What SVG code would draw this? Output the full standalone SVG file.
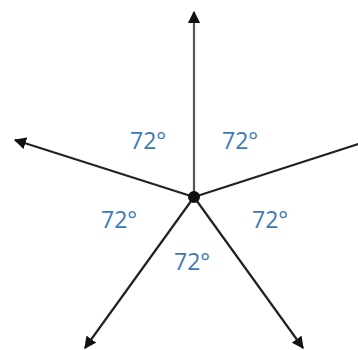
<svg xmlns="http://www.w3.org/2000/svg" width="358" height="350" viewBox="0 0 358 350">
<style>
.ray{stroke:#222;stroke-width:2.2;fill:none;marker-end:url(#ah)}
.lbl{font-family:"Open Sans","Noto Sans","Liberation Sans",sans-serif;font-size:23px;fill:#3d78b3}
</style>
<defs>
<marker id="ah" viewBox="0 0 10 10" refX="9" refY="5" markerWidth="5.5" markerHeight="5.5" orient="auto" markerUnits="strokeWidth">
<path d="M0,0 L10,5 L0,10 z" fill="#111"/>
</marker>
</defs>
<rect width="358" height="350" fill="#fff"/>
<g id="connectors">
<line class="ray" x1="194" y1="197" x2="194" y2="12" style="stroke:#555"/>
<line class="ray" x1="194" y1="197" x2="15" y2="140"/>
<line class="ray" x1="194" y1="197" x2="371" y2="140"/>
<line class="ray" x1="194" y1="197" x2="85" y2="348"/>
<line class="ray" x1="194" y1="197" x2="303" y2="348"/>
</g>
<g id="center"><circle cx="194" cy="197" r="6" fill="#111"/></g>
<g id="labels">
<text class="lbl" x="130" y="149">72°</text>
<text class="lbl" x="222" y="149">72°</text>
<text class="lbl" x="101" y="228">72°</text>
<text class="lbl" x="252" y="228">72°</text>
<text class="lbl" x="174" y="270">72°</text>
</g>
</svg>
